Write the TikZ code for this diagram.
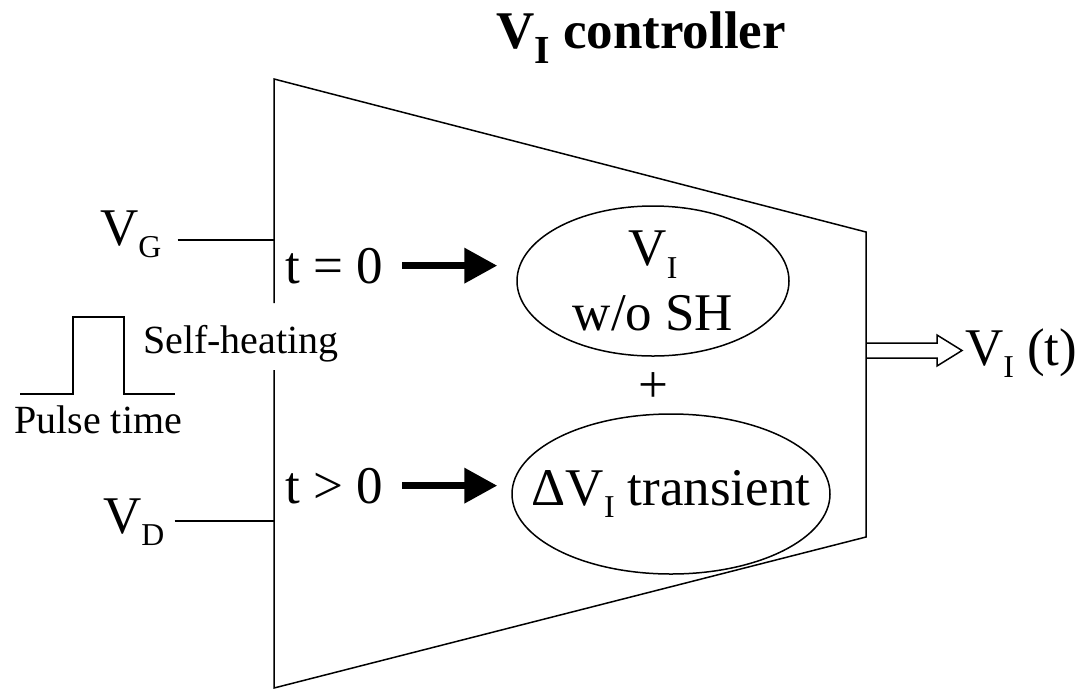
\documentclass[tikz,border=0pt]{standalone}
\usepackage{fontspec}
\setmainfont{Liberation Serif}
\usetikzlibrary{shapes.geometric,arrows.meta}
\newcommand{\lowsub}[1]{\raisebox{-0.24em}{\scalebox{0.6}{#1}}}
\newcommand{\bigsub}[1]{\raisebox{-0.29em}{\scalebox{0.75}{#1}}}

\begin{document}
\begin{tikzpicture}[x=1pt, y=-1pt,
    wire/.style={line width=1.5pt},
    bigtext/.style={font=\fontsize{53}{65}\selectfont, inner sep=0pt},
    smalltext/.style={font=\fontsize{40}{48}\selectfont, inner sep=0pt},
    blob/.style={draw, ellipse, line width=1.5pt, inner sep=-30pt, align=center,
                 font=\fontsize{53}{65}\selectfont},
    fatarrow/.style={line width=7pt, -{Triangle[length=33pt, width=34pt]}}]
    % --- Configuration ---
    \def\xL{274}    % left side of the controller
    \def\xR{866}    % right side of the controller
    \def\yTL{79}  \def\yTR{232}
    \def\yBR{537} \def\yBL{688}

    \useasboundingbox (0,0) rectangle (1089,689);

    % --- Controller outline (left side open at the label) ---
    \draw[wire, line join=miter] (\xL,303) -- (\xL,\yTL) -- (\xR,\yTR)
        -- (\xR,\yBR) -- (\xL,\yBL) -- (\xL,370);

    % --- Title ---
    \node[bigtext, font=\fontsize{53}{65}\selectfont\bfseries, anchor=base] (title)
        at (641,48) {V\bigsub{I} controller};

    % --- Inputs ---
    \node[bigtext, anchor=base west] (vg) at (100,245) {V\lowsub{G}};
    \node[bigtext, anchor=base west] (vd) at (103,533) {V\lowsub{D}};
    \coordinate (gin) at (\xL,240);
    \coordinate (din) at (\xL,521);
    \draw[wire, shorten <=16pt] (vg.east |- gin) -- (gin);
    \draw[wire, shorten <=10pt] (vd.east |- din) -- (din);

    % --- Pulse sketch ---
    \draw[wire] (20,394) -- (73,394) -- (73,317) -- (124,317) -- (124,394) -- (175,394);
    \node[smalltext, anchor=base west] (heat) at (143,353) {Self-heating};
    \node[smalltext, anchor=base west] (pulse) at (14,433) {Pulse time};

    % --- Conditions and blocks ---
    \node[bigtext, anchor=base west] (tzero) at (285,283) {t = 0};
    \node[bigtext, anchor=base west] (tpos) at (285,503) {t > 0};
    \node[blob, minimum width=272pt, minimum height=150pt] (vinit) at (653,281)
        {V\lowsub{I}\\w/o SH};
    \node[bigtext] (plus) at (653,388) {+};
    \node[blob, minimum width=318pt, minimum height=160pt] (vtrans) at (671,494)
        {ΔV\lowsub{I} transient};

    \draw[fatarrow, shorten <=19pt, shorten >=19pt] (tzero.east) -- (tzero.east -| vinit.west);
    \draw[fatarrow, shorten <=19pt, shorten >=14pt] (tpos.east) -- (tpos.east -| vtrans.west);

    % --- Output ---
    \node[bigtext, anchor=base west] (vout) at (965,365) {V\lowsub{I} (t)};
    \coordinate (oin) at (\xR,350.5);
    \coordinate (otip) at (962,350.5);
    \draw[wire, line join=miter] (\xR,343) -- (937,343) -- (937,335) -- (otip)
        -- (937,366) -- (937,358) -- (\xR,358);
\end{tikzpicture}
\end{document}
